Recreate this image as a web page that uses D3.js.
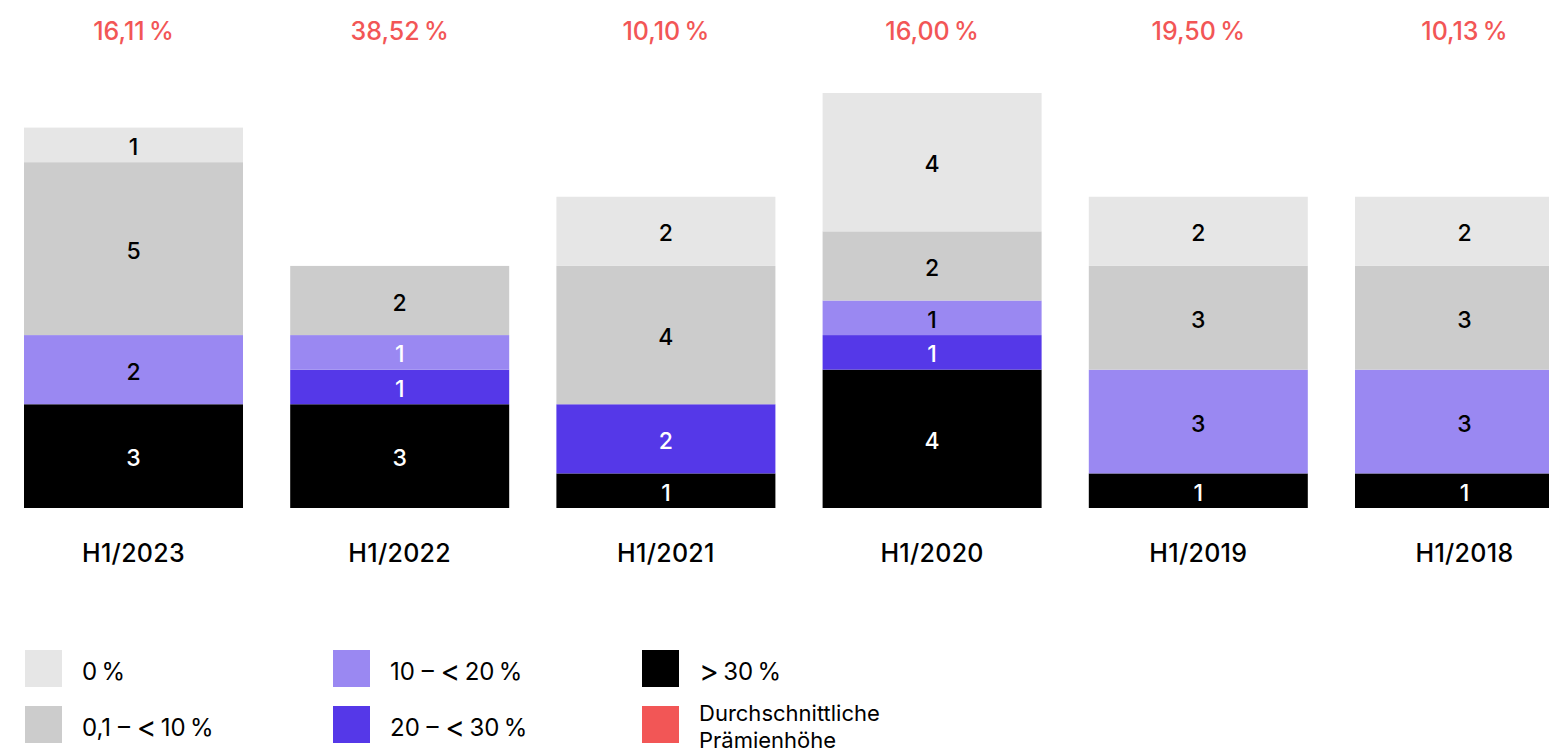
<!DOCTYPE html>
<html lang="de">
<head>
<meta charset="utf-8">
<script src="https://cdn.jsdelivr.net/npm/d3@7"></script>
<style>
  html, body { margin: 0; padding: 0; background: #fff; overflow: hidden; }
  svg { display: block; font-family: "Inter", "Liberation Sans", sans-serif; }
</style>
</head>
<body>
<svg id="chart" width="1549" height="755"></svg>
<script>
// Half-year periods, newest first
const periods = ["H1/2023", "H1/2022", "H1/2021", "H1/2020", "H1/2019", "H1/2018"];

// Average premium per period (shown in red above the bars)
const avgPremium = [16.11, 38.52, 10.10, 16.00, 19.50, 10.13];

// Number of deals per premium bracket, stacked bottom to top
const over30   = [3, 3, 1, 4, 1, 1];
const from20   = [0, 1, 2, 1, 0, 0];
const from10   = [2, 1, 0, 1, 3, 3];
const from01   = [5, 2, 4, 2, 3, 3];
const zero     = [1, 0, 2, 4, 2, 2];

const seriesKeys   = ["over30", "from20", "from10", "from01", "zero"];
const seriesValues = { over30, from20, from10, from01, zero };
const seriesLabels = {
  zero:   "0\u202F%",
  from01: "0,1 \u2013 <\u202F10\u202F%",
  from10: "10 \u2013 <\u202F20\u202F%",
  from20: "20 \u2013 <\u202F30\u202F%",
  over30: ">\u202F30\u202F%"
};
const colors = {
  zero: "#e6e6e6",
  from01: "#cccccc",
  from10: "#9a88f2",
  from20: "#5538e8",
  over30: "#000000"
};
const avgColor = "#f25656";
const avgLabel = "Durchschnittliche Prämienhöhe";

const rows = periods.map((p, i) => {
  const r = { period: p };
  seriesKeys.forEach(k => r[k] = seriesValues[k][i]);
  return r;
});

const svg = d3.select("#chart");

const x = d3.scaleBand()
  .domain(periods)
  .range([24, 1574])
  .paddingInner(0.1773)
  .paddingOuter(0);

const y = d3.scaleLinear().domain([0, 12]).range([508, 93]);

const stacked = d3.stack().keys(seriesKeys)(rows);

const fmtPct = v => d3.format(".2f")(v).replace(".", ",") + "\u202F%";

// Stacked bars
const layers = svg.append("g").selectAll("g")
  .data(stacked)
  .join("g")
  .attr("fill", d => colors[d.key]);

layers.selectAll("rect")
  .data(d => d.map(s => ({ key: d.key, s })).filter(e => e.s[1] - e.s[0] > 0))
  .join("rect")
  .attr("x", d => x(d.s.data.period))
  .attr("width", x.bandwidth())
  .attr("y", d => y(d.s[1]))
  .attr("height", d => y(d.s[0]) - y(d.s[1]));

// Count labels inside the segments
const darkKeys = new Set(["over30", "from20"]);
layers.selectAll("text")
  .data(d => d.map(s => ({ key: d.key, s })).filter(e => e.s[1] - e.s[0] > 0))
  .join("text")
  .attr("x", d => x(d.s.data.period) + x.bandwidth() / 2)
  .attr("y", d => (y(d.s[0]) + y(d.s[1])) / 2 + 2)
  .attr("text-anchor", "middle")
  .attr("dominant-baseline", "central")
  .attr("font-size", 23)
  .attr("font-weight", 500)
  .attr("fill", d => (darkKeys.has(d.key) || (d.key === "from10" && d.s.data.period === "H1/2022")) ? "#fff" : "#000")
  .text(d => d.s[1] - d.s[0]);

// Average premium labels
svg.append("g").selectAll("text")
  .data(periods)
  .join("text")
  .attr("x", p => x(p) + x.bandwidth() / 2)
  .attr("y", 40)
  .attr("text-anchor", "middle")
  .attr("font-size", 25)
  .attr("font-weight", 500)
  .attr("letter-spacing", -0.3)
  .attr("fill", avgColor)
  .text((p, i) => fmtPct(avgPremium[i]));

// Period axis labels
svg.append("g").selectAll("text")
  .data(periods)
  .join("text")
  .attr("x", p => x(p) + x.bandwidth() / 2)
  .attr("y", 562)
  .attr("text-anchor", "middle")
  .attr("font-size", 25)
  .attr("font-weight", 500)
  .attr("letter-spacing", 0.3)
  .attr("fill", "#000")
  .text(p => p);

// Legend
const legendItems = [
  { key: "zero",   col: 0, row: 0 },
  { key: "from01", col: 0, row: 1 },
  { key: "from10", col: 1, row: 0 },
  { key: "from20", col: 1, row: 1 },
  { key: "over30", col: 2, row: 0 },
  { key: "avg",    col: 2, row: 1 }
];
const colX = [25, 333, 642];
const rowY = [650, 706];
const sw = 37;

const legend = svg.append("g").selectAll("g")
  .data(legendItems)
  .join("g")
  .attr("transform", d => `translate(${colX[d.col]},${rowY[d.row]})`);

legend.append("rect")
  .attr("width", sw)
  .attr("height", sw)
  .attr("fill", d => d.key === "avg" ? avgColor : colors[d.key]);

legend.each(function(d) {
  const g = d3.select(this);
  const t = g.append("text")
    .attr("x", 57)
    .attr("font-size", 24)
    .attr("font-weight", 400)
    .attr("fill", "#000");
  if (d.key === "avg") {
    // two-line label, kept inside the bottom edge
    const words = avgLabel.split(" ");
    t.attr("font-size", 22).attr("y", 7).attr("dominant-baseline", "central");
    words.forEach((w, i) => t.append("tspan").attr("x", 57).attr("dy", i === 0 ? 0 : 27).text(w));
  } else {
    t.attr("y", sw / 2 + 2).attr("dominant-baseline", "central")
      .selectAll("tspan")
      .data(seriesLabels[d.key].split(/([<>])/).filter(s => s.length))
      .join("tspan")
      .attr("font-size", s => (s === "<" || s === ">") ? 30 : null)
      .text(s => s);
  }
});
</script>
</body>
</html>
